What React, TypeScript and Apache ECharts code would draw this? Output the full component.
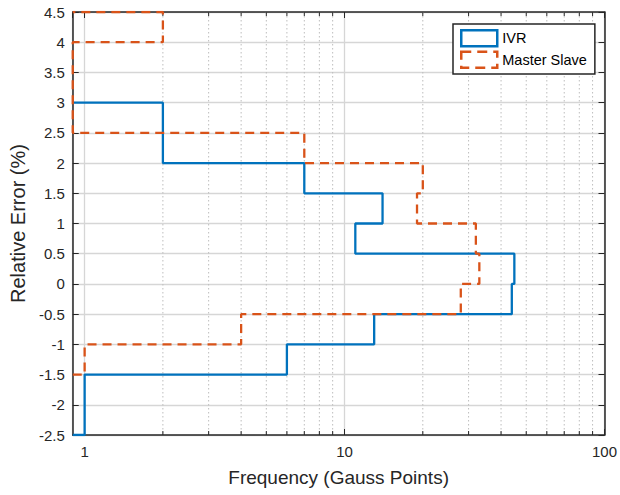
import React, { useEffect, useRef } from 'react';
import * as echarts from 'echarts';

// Histogram bin edges (Relative Error, %) per series
const IVR_EDGES = [-2.5, -2, -1.5, -1, -0.5, 0, 0.5, 1, 1.5, 2, 2.5, 3];
const MS_EDGES = [-1.5, -1, -0.5, 0, 0.5, 1, 1.5, 2, 2.5, 3, 3.5, 4, 4.5];
// Counts per bin (Frequency, Gauss points)
const IVR_COUNTS = [1, 1, 6, 13, 44, 45, 11, 14, 7, 2, 2];
const MS_COUNTS = [1, 4, 28, 33, 32, 19, 20, 7, 0, 0, 0, 2];
const SERIES_NAMES = ['IVR', 'Master Slave'];
// Axis ranges
const X_MIN = 0.9;
const X_MAX = 100;
const Y_MIN = -2.5;
const Y_MAX = 4.5;
const Y_STEP = 0.5;
// Minor (log) grid positions
const MINOR_TICKS = [2, 3, 4, 5, 6, 7, 8, 9, 20, 30, 40, 50, 60, 70, 80, 90];

const BLUE = '#0072BD';
const ORANGE = '#D95319';
const AXIS = '#262626';
const FONT = '"Liberation Sans", Arial, Helvetica, sans-serif';

// MATLAB-style horizontal "stairs" outline; zero counts sit on the axis floor
function stairs(edges: number[], counts: number[]): number[][] {
  const pts: number[][] = [[X_MIN, edges[0]]];
  counts.forEach((c, i) => {
    const x = c > 0 ? c : X_MIN;
    pts.push([x, edges[i]]);
    pts.push([x, edges[i + 1]]);
  });
  pts.push([X_MIN, edges[edges.length - 1]]);
  return pts;
}

export default function App() {
  const ref = useRef<HTMLDivElement>(null);
  useEffect(() => {
    if (!ref.current) return;
    const chart = echarts.init(ref.current, undefined, { renderer: 'svg' });
    const xBase = {
      type: 'log' as const,
      logBase: 10,
      min: X_MIN,
      max: X_MAX,
    };
    const yBase = {
      type: 'value' as const,
      min: Y_MIN,
      max: Y_MAX,
      interval: Y_STEP,
    };
    const axisLine = { show: true, onZero: false, lineStyle: { color: AXIS, width: 1.5 } };
    const axisTick = { show: true, inside: true, length: 6, lineStyle: { color: AXIS, width: 1 } };
    chart.setOption({
      animation: false,
      backgroundColor: '#fff',
      grid: { left: 71, right: 14, top: 12, bottom: 60, containLabel: false },
      legend: {
        orient: 'vertical',
        left: 453,
        top: 24,
        padding: [5, 8, 5, 7],
        itemWidth: 36,
        itemHeight: 16,
        itemGap: 3,
        borderColor: AXIS,
        borderWidth: 1.5,
        backgroundColor: '#fff',
        textStyle: { fontFamily: FONT, fontSize: 14.5, color: '#000' },
        data: [
          {
            name: SERIES_NAMES[0],
            icon: 'rect',
            itemStyle: { color: 'rgba(255,255,255,0)', borderColor: BLUE, borderWidth: 2.5 },
          },
          {
            name: SERIES_NAMES[1],
            icon: 'rect',
            itemStyle: {
              color: 'rgba(255,255,255,0)',
              borderColor: ORANGE,
              borderWidth: 2.5,
              borderType: [10, 6],
            },
          },
        ],
      },
      xAxis: [
        {
          ...xBase,
          position: 'bottom',
          name: 'Frequency (Gauss Points)',
          nameLocation: 'middle',
          nameGap: 33,
          nameTextStyle: { fontFamily: FONT, fontSize: 19, color: AXIS },
          axisLine,
          axisTick,
          axisLabel: {
            showMinLabel: false,
            margin: 9,
            fontFamily: FONT,
            fontSize: 15,
            color: AXIS,
            formatter: (v: number) => String(Math.round(v)),
          },
          splitLine: { show: true, lineStyle: { color: '#d6d6d6', width: 1.3 } },
        },
        {
          ...xBase,
          position: 'top',
          axisLine,
          axisTick,
          axisLabel: { show: false },
          splitLine: { show: false },
        },
      ],
      yAxis: [
        {
          ...yBase,
          position: 'left',
          name: 'Relative Error (%)',
          nameLocation: 'middle',
          nameGap: 41,
          nameTextStyle: { fontFamily: FONT, fontSize: 20, color: AXIS },
          axisLine,
          axisTick,
          axisLabel: { margin: 8, fontFamily: FONT, fontSize: 15, color: AXIS },
          splitLine: { show: true, lineStyle: { color: '#d6d6d6', width: 1.3 } },
        },
        {
          ...yBase,
          position: 'right',
          axisLine,
          axisTick,
          axisLabel: { show: false },
          splitLine: { show: false },
        },
      ],
      series: [
        {
          type: 'custom',
          name: 'minor-grid',
          silent: true,
          z: 1,
          xAxisIndex: 0,
          yAxisIndex: 0,
          encode: { x: 0, y: 1 },
          data: MINOR_TICKS.map((v) => [v, Y_MIN]),
          renderItem: (_params: any, api: any) => {
            const v = api.value(0);
            const top = api.coord([v, Y_MAX]);
            const bot = api.coord([v, Y_MIN]);
            return {
              type: 'group',
              children: [
                {
                  type: 'line',
                  shape: { x1: top[0], y1: top[1], x2: bot[0], y2: bot[1] },
                  style: { stroke: '#bdbdbd', lineWidth: 1, lineDash: [1.5, 2.5] },
                },
                {
                  type: 'line',
                  shape: { x1: bot[0], y1: bot[1], x2: bot[0], y2: bot[1] - 4 },
                  style: { stroke: AXIS, lineWidth: 1 },
                },
                {
                  type: 'line',
                  shape: { x1: top[0], y1: top[1], x2: top[0], y2: top[1] + 4 },
                  style: { stroke: AXIS, lineWidth: 1 },
                },
              ],
            };
          },
        },
        {
          name: SERIES_NAMES[0],
          type: 'line',
          xAxisIndex: 0,
          yAxisIndex: 0,
          data: stairs(IVR_EDGES, IVR_COUNTS),
          showSymbol: false,
          symbol: 'none',
          clip: true,
          z: 3,
          lineStyle: { color: BLUE, width: 2.3 },
          itemStyle: { color: BLUE },
        },
        {
          name: SERIES_NAMES[1],
          type: 'line',
          xAxisIndex: 0,
          yAxisIndex: 0,
          data: stairs(MS_EDGES, MS_COUNTS),
          showSymbol: false,
          symbol: 'none',
          clip: true,
          z: 4,
          lineStyle: { color: ORANGE, width: 2.3, type: [9, 6] },
          itemStyle: { color: ORANGE },
        },
      ],
    });
    return () => chart.dispose();
  }, []);
  return (
    <div
      ref={ref}
      style={{ position: 'absolute', left: 0, top: 0, width: 620, height: 495 }}
    />
  );
}
